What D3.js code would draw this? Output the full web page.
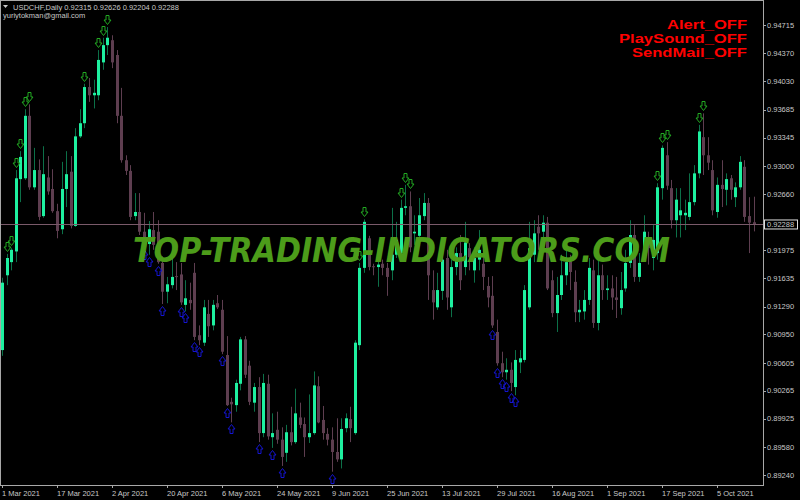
<!DOCTYPE html>
<html lang="en">
<head>
<meta charset="utf-8">
<title>USDCHF daily candles</title>
<script src="https://d3js.org/d3.v7.min.js"></script>
<style type="text/css">
  body { margin: 0; background: #000; }
  text { font-family: "Liberation Sans", Arial, sans-serif; }
  .axislabel { fill: #c8c8c8; font-size: 7.5px; }
</style>
</head>
<body>
<script type="text/javascript">

// data
var open = [.9076,.9167,.9183,.9196,.9284,.9285,.9361,.9274,.9295,.9239,
  .9286,.9272,.9245,.9223,.9272,.9293,.9227,.9336,.9352,.9396,
  .9386,.9386,.9426,.9447,.9453,.9435,.9361,.9307,.9294,.9239,
  .9244,.9220,.9205,.9222,.9220,.9182,.9147,.9155,.9166,.9168,
  .9131,.9137,.9170,.9094,.9085,.9120,.9106,.9133,.9125,.9070,
  .9013,.9009,.9035,.9089,.9057,.9012,.9031,.8975,.9035,.8970,
  .8979,.8967,.8951,.8976,.8964,.8994,.8986,.8970,.8975,.9032,
  .8991,.8974,.8967,.8952,.8943,.8981,.8992,.8975,.9082,.9176,
  .9212,.9178,.9177,.9181,.9176,.9173,.9192,.9194,.9249,.9251,
  .9218,.9215,.9239,.9255,.9149,.9128,.9148,.9188,.9128,.9177,
  .9194,.9177,.9200,.9173,.9186,.9181,.9154,.9142,.9098,.9060,
  .9049,.9052,.9031,.9061,.9064,.9128,.9192,.9226,.9220,.9231,
  .9161,.9121,.9143,.9167,.9184,.9159,.9122,.9123,.9137,.9173,
  .9109,.9167,.9149,.9151,.9140,.9127,.9151,.9182,.9216,.9165,
  .9194,.9210,.9188,.9194,.9273,.9313,.9273,.9234,.9240,.9240,
  .9238,.9256,.9291,.9335,.9313,.9295,.9244,.9277,.9271,.9285,
  .9262,.9274,.9299,.9239,.92315];

var high = [.9164,.9193,.9200,.9295,.9318,.9369,.9375,.9322,.9308,.9324,
  .9312,.9296,.9254,.9305,.9318,.9312,.9346,.9369,.9400,.9407,
  .9405,.9441,.9456,.9469,.9459,.9441,.9395,.9313,.9301,.9267,
  .9267,.9243,.9233,.9244,.9234,.9190,.9165,.9192,.9183,.9182,
  .9161,.9158,.9182,.9106,.9137,.9137,.9137,.9143,.9137,.9093,
  .9018,.9040,.9092,.9093,.9063,.9036,.9043,.9047,.9046,.8999,
  .9001,.8982,.8985,.9007,.9029,.9012,.8994,.9022,.9050,.9044,
  .9008,.8981,.8982,.8993,.8993,.8999,.9007,.9088,.9182,.9235,
  .9215,.9181,.9204,.9186,.9182,.9249,.9232,.9259,.9277,.9269,
  .9240,.9261,.9267,.9261,.9173,.9170,.9201,.9198,.9186,.9201,
  .9216,.9232,.9206,.9201,.9222,.9198,.9165,.9166,.9113,.9074,
  .9066,.9061,.9076,.9076,.9155,.9232,.9234,.9240,.9240,.9238,
  .9173,.9165,.9192,.9201,.9192,.9173,.9137,.9149,.9188,.9186,
  .9188,.9180,.9167,.9167,.9165,.9171,.9198,.9234,.9228,.9194,
  .9240,.9220,.9228,.9279,.9325,.9329,.9283,.9273,.9273,.9259,
  .9291,.9301,.9350,.9364,.9335,.9307,.9286,.9307,.9291,.9289,
  .9280,.9312,.9307,.9262,.92626];

var low = [.9069,.9155,.9173,.9183,.9256,.9283,.9271,.9271,.9234,.9237,
  .9265,.9243,.9212,.9217,.9250,.9224,.9226,.9334,.9346,.9378,
  .9370,.9380,.9417,.9435,.9419,.9352,.9304,.9289,.9234,.9234,
  .9216,.9200,.9192,.9198,.9181,.9132,.9133,.9151,.9149,.9131,
  .9123,.9125,.9088,.9082,.9081,.9092,.9100,.9126,.9071,.9008,
  .8988,.9001,.9027,.9042,.9009,.9001,.8964,.8970,.8967,.8957,
  .8962,.8935,.8940,.8960,.8962,.8981,.8946,.8963,.8973,.8987,
  .8967,.8960,.8928,.8940,.8932,.8976,.8964,.8973,.9076,.9170,
  .9173,.9167,.9153,.9167,.9142,.9161,.9188,.9186,.9240,.9195,
  .9204,.9210,.9234,.9137,.9113,.9125,.9137,.9125,.9116,.9167,
  .9149,.9167,.9173,.9158,.9173,.9149,.9128,.9103,.9057,.9043,
  .9040,.9026,.9021,.9048,.9061,.9125,.9183,.9198,.9210,.9149,
  .9116,.9098,.9137,.9155,.9149,.9110,.9110,.9113,.9131,.9103,
  .9100,.9137,.9137,.9125,.9115,.9119,.9147,.9176,.9159,.9159,
  .9188,.9180,.9173,.9186,.9259,.9271,.9224,.9213,.9213,.9222,
  .9234,.9252,.9285,.9289,.9295,.9240,.9237,.9250,.9252,.9259,
  .9250,.9271,.9232,.9194,.92204];

var close = [.9158,.9188,.9198,.9285,.9311,.9361,.9274,.9295,.9238,.9290,
  .9269,.9245,.9221,.9272,.9290,.9227,.9336,.9352,.9396,.9386,
  .9389,.9429,.9447,.9456,.9426,.9361,.9307,.9294,.9238,.9244,
  .9220,.9210,.9223,.9204,.9183,.9147,.9156,.9165,.9165,.9134,
  .9139,.9133,.9092,.9088,.9128,.9105,.9131,.9128,.9074,.9009,
  .9010,.9036,.9089,.9046,.9013,.9031,.8975,.9036,.8971,.8975,
  .8967,.8946,.8976,.8964,.8999,.8985,.8970,.8975,.9033,.8988,
  .8975,.8967,.8952,.8943,.8980,.8993,.8981,.9085,.9176,.9232,
  .9177,.9177,.9180,.9176,.9165,.9192,.9210,.9249,.9251,.9201,
  .9220,.9240,.9255,.9167,.9134,.9149,.9186,.9140,.9177,.9194,
  .9161,.9207,.9189,.9188,.9198,.9165,.9140,.9106,.9060,.9049,
  .9052,.9036,.9064,.9066,.9149,.9200,.9218,.9218,.9231,.9151,
  .9121,.9143,.9167,.9183,.9171,.9122,.9125,.9137,.9176,.9109,
  .9167,.9149,.9151,.9140,.9137,.9149,.9182,.9216,.9165,.9182,
  .9220,.9200,.9210,.9274,.9322,.9276,.9234,.9259,.9246,.9243,
  .9256,.9291,.9342,.9313,.9304,.9246,.9277,.9272,.9284,.9271,
  .9274,.9305,.9238,.9231,.92288];

// arrows from the indicator (bar numbers)
var sellArrows = [1,2,3,4,5,6,18,21,22,23,78,79,87,88,89,143,144,145,152,153];
var buyArrows = [31,32,34,35,39,40,42,43,48,49,50,56,59,61,72,107,108,109,110,111,112];

// axis labels
var dateBars = [0,12,24,36,48,60,72,84,96,108,120,132,144,156];
var dateLabels = ["1 Mar 2021","17 Mar 2021","2 Apr 2021","20 Apr 2021","6 May 2021","24 May 2021",
  "9 Jun 2021","25 Jun 2021","13 Jul 2021","29 Jul 2021","16 Aug 2021","1 Sep 2021","17 Sep 2021","5 Oct 2021"];
var priceTicks = [0.94715,0.94370,0.94030,0.93685,0.93345,0.93000,0.92660,
  0.91975,0.91635,0.91290,0.90950,0.90605,0.90265,0.89925,0.89580,0.89240];
var lastPrice = 0.92288;
var headerText = "USDCHF,Daily  0.92315 0.92626 0.92204 0.92288";
var signalLabels = ["Alert_OFF","PlaySound_OFF","SendMail_OFF"];

var w = 800, h = 500;
var plotRight = 763, plotBottom = 485;
var step = 4.583;

var svg = d3.select("body").append("svg")
            .attr("width", w)
            .attr("height", h)
            .style("background", "#000");

var n = close.length;
var xScale = d3.scaleLinear()
               .domain([0, n - 1])
               .range([2, 2 + (n - 1) * step]);

var yScale = d3.scaleLinear()
               .domain([0.89240, 0.94715])
               .range([475, 25]);

var bars = d3.range(n);
var cx = i => Math.round(xScale(i));

// frame
svg.append("rect")
   .attr("x", 0.5).attr("y", 0.5)
   .attr("width", plotRight).attr("height", plotBottom)
   .attr("fill", "none")
   .attr("stroke", "#a8a8a8");

// wicks
svg.append("g").selectAll("line")
   .data(bars)
   .enter().append("line")
   .attr("x1", i => cx(i) + 0.5)
   .attr("x2", i => cx(i) + 0.5)
   .attr("y1", i => yScale(high[i]))
   .attr("y2", i => yScale(low[i]))
   .attr("stroke", i => close[i] >= open[i] ? "#0c7048" : "#5e3e50")
   .attr("stroke-width", 1);

// bodies
svg.append("g").selectAll("rect")
   .data(bars)
   .enter().append("rect")
   .attr("x", i => cx(i) - 1)
   .attr("width", 3)
   .attr("y", i => yScale(Math.max(open[i], close[i])))
   .attr("height", i => Math.max(1, Math.abs(yScale(open[i]) - yScale(close[i]))))
   .attr("fill", i => close[i] >= open[i] ? "#1ef0a0" : "#5e3e50");

// last price line
svg.append("line")
   .attr("x1", 1).attr("x2", plotRight)
   .attr("y1", Math.round(yScale(lastPrice)) + 0.5)
   .attr("y2", Math.round(yScale(lastPrice)) + 0.5)
   .attr("stroke", "#7a5a6a");

// arrows
function arrowPts(x, tip, dir) {
  // dir = 1 points down, -1 points up
  var pts = [[-1.5, -9], [1.5, -9], [1.5, -4.5], [3.5, -4.5], [0, 0], [-3.5, -4.5], [-1.5, -4.5]];
  return pts.map(p => [x + 0.5 + p[0], tip + dir * p[1]].join(",")).join(" ");
}

svg.append("g").selectAll("polygon")
   .data(sellArrows)
   .enter().append("polygon")
   .attr("points", i => arrowPts(cx(i), Math.round(yScale(high[i])) - 2.5, 1))
   .attr("fill", "none")
   .attr("stroke", "#22a822");

svg.append("g").selectAll("polygon")
   .data(buyArrows)
   .enter().append("polygon")
   .attr("points", i => arrowPts(cx(i), Math.round(yScale(low[i])) + 2.5, -1))
   .attr("fill", "none")
   .attr("stroke", "#1414d0");

// watermark
svg.append("text")
   .attr("x", 133).attr("y", 262)
   .attr("textLength", 537)
   .attr("lengthAdjust", "spacingAndGlyphs")
   .style("font-family", "DejaVu Sans")
   .style("font-weight", "bold")
   .style("font-style", "italic")
   .style("font-size", "34px")
   .attr("fill", "#4c9c1a")
   .text("TOP-TRADING-INDICATORS.COM");

// y axis
var yTicks = svg.append("g");
yTicks.selectAll("line")
   .data(priceTicks)
   .enter().append("line")
   .attr("x1", plotRight).attr("x2", plotRight + 3)
   .attr("y1", d => Math.round(yScale(d)) + 0.5)
   .attr("y2", d => Math.round(yScale(d)) + 0.5)
   .attr("stroke", "#a8a8a8");
yTicks.selectAll("text")
   .data(priceTicks)
   .enter().append("text")
   .attr("class", "axislabel")
   .attr("x", 767)
   .attr("y", d => yScale(d) + 2.7)
   .text(d => d.toFixed(5));

// last price label
var lp = yScale(lastPrice);
svg.append("rect")
   .attr("x", 764.5).attr("y", lp - 4.5)
   .attr("width", 33).attr("height", 9)
   .attr("fill", "#000")
   .attr("stroke", "#e0e0e0");
svg.append("text")
   .attr("class", "axislabel")
   .attr("x", 767).attr("y", lp + 2.7)
   .attr("fill", "#e0e0e0")
   .text(lastPrice.toFixed(5));

// x axis
var xTicks = svg.append("g");
xTicks.selectAll("line")
   .data(dateBars)
   .enter().append("line")
   .attr("x1", i => cx(i) + 0.5).attr("x2", i => cx(i) + 0.5)
   .attr("y1", plotBottom).attr("y2", plotBottom + 3)
   .attr("stroke", "#a8a8a8");
xTicks.selectAll("text")
   .data(dateBars)
   .enter().append("text")
   .attr("class", "axislabel")
   .attr("x", i => cx(i))
   .attr("y", 496)
   .text((i, k) => dateLabels[k]);

// header
svg.append("path")
   .attr("d", "M3,5 L8,5 L5.5,8 Z")
   .attr("fill", "#c8c8c8");
svg.append("text")
   .attr("class", "axislabel")
   .attr("x", 13).attr("y", 9.5)
   .text(headerText);
svg.append("text")
   .attr("class", "axislabel")
   .attr("x", 3).attr("y", 17.5)
   .text("yuriytokman@gmail.com");

// indicator state labels
var labelWidths = [80, 128, 115];
svg.append("g").selectAll("text")
   .data(signalLabels)
   .enter().append("text")
   .attr("x", 747)
   .attr("y", (d, k) => 29 + k * 14)
   .attr("text-anchor", "end")
   .attr("textLength", (d, k) => labelWidths[k])
   .attr("lengthAdjust", "spacingAndGlyphs")
   .style("font-weight", "bold")
   .style("font-size", "12.5px")
   .attr("fill", "#ff0000")
   .text(d => d);

</script>
</body>
</html>
